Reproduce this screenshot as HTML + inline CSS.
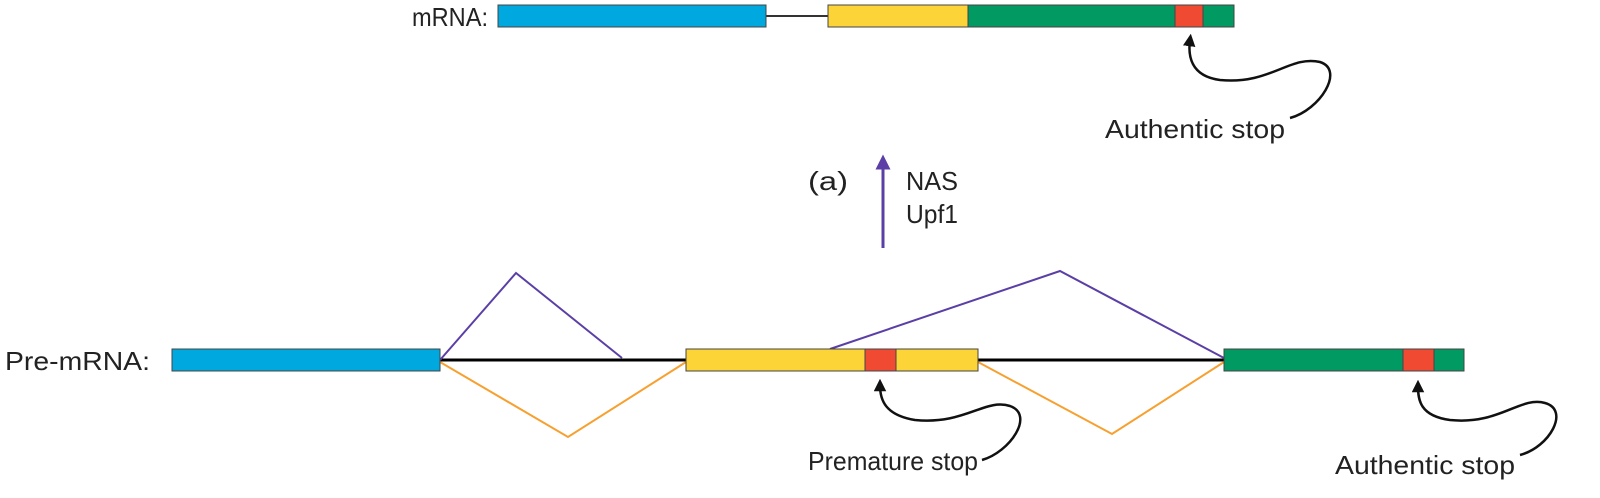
<!DOCTYPE html>
<html><head><style>body{margin:0;background:#fff}svg{display:block}text{font-family:"Liberation Sans",sans-serif;font-size:26px;fill:#222}</style></head><body>
<svg width="1600" height="498" viewBox="0 0 1600 498">
<defs><marker id="ah" markerWidth="5" markerHeight="5" refX="2.5" refY="2.5" orient="auto"><path d="M0,0L5,2.5L0,5z" fill="#111"/></marker>
<marker id="ap" markerWidth="5" markerHeight="5" refX="2.5" refY="2.5" orient="auto"><path d="M0,0L5,2.5L0,5z" fill="#5b3fa6"/></marker></defs>
<!-- mRNA -->
<text x="412" y="26" textLength="76" lengthAdjust="spacingAndGlyphs">mRNA:</text>
<line x1="766" y1="16" x2="828" y2="16" stroke="#333" stroke-width="2"/>
<rect x="498" y="5" width="268" height="22" fill="#00a8e0" stroke="#444"/>
<rect x="828" y="5" width="140" height="22" fill="#fdd438" stroke="#444"/>
<rect x="968" y="5" width="266" height="22" fill="#009a62" stroke="#444"/>
<rect x="1175" y="5" width="28" height="22" fill="#f04b32" stroke="#444"/>
<path d="M1290,118 C1320,110 1345,70 1320,62 C1290,55 1270,85 1220,80 C1190,76 1188,55 1190,40" fill="none" stroke="#111" stroke-width="2.5" marker-end="url(#ah)"/>
<text x="1105" y="138" textLength="180" lengthAdjust="spacingAndGlyphs">Authentic stop</text>
<!-- arrow -->
<line x1="883" y1="248" x2="883" y2="162" stroke="#5b3fa6" stroke-width="3" marker-end="url(#ap)"/>
<text x="808" y="190" textLength="40" lengthAdjust="spacingAndGlyphs">(a)</text>
<text x="906" y="190" textLength="52" lengthAdjust="spacingAndGlyphs">NAS</text>
<text x="906" y="223" textLength="52" lengthAdjust="spacingAndGlyphs">Upf1</text>
<!-- pre-mRNA -->
<text x="5" y="370" textLength="145" lengthAdjust="spacingAndGlyphs">Pre-mRNA:</text>
<line x1="440" y1="360" x2="686" y2="360" stroke="#000" stroke-width="3"/>
<line x1="978" y1="360" x2="1224" y2="360" stroke="#000" stroke-width="3"/>
<polyline points="440,360 516,273 622,358" fill="none" stroke="#5b3fa6" stroke-width="2"/>
<polyline points="830,349 1060,271 1224,358" fill="none" stroke="#5b3fa6" stroke-width="2"/>
<polyline points="440,362 568,437 686,362" fill="none" stroke="#f7a030" stroke-width="2"/>
<polyline points="978,362 1112,434 1224,362" fill="none" stroke="#f7a030" stroke-width="2"/>
<rect x="172" y="349" width="268" height="22" fill="#00a8e0" stroke="#444"/>
<rect x="686" y="349" width="292" height="22" fill="#fdd438" stroke="#444"/>
<rect x="865" y="349" width="31" height="22" fill="#f04b32" stroke="#444"/>
<rect x="1224" y="349" width="240" height="22" fill="#009a62" stroke="#444"/>
<rect x="1403" y="349" width="31" height="22" fill="#f04b32" stroke="#444"/>
<path d="M982,460 C1010,452 1035,415 1010,406 C985,398 965,425 915,420 C885,415 880,400 880,385" fill="none" stroke="#111" stroke-width="2.5" marker-end="url(#ah)"/>
<text x="808" y="470" textLength="170" lengthAdjust="spacingAndGlyphs">Premature stop</text>
<path d="M1520,455 C1550,447 1570,410 1545,403 C1520,396 1500,425 1450,420 C1420,416 1418,400 1418,386" fill="none" stroke="#111" stroke-width="2.5" marker-end="url(#ah)"/>
<text x="1335" y="474" textLength="180" lengthAdjust="spacingAndGlyphs">Authentic stop</text>
</svg>
</body></html>
